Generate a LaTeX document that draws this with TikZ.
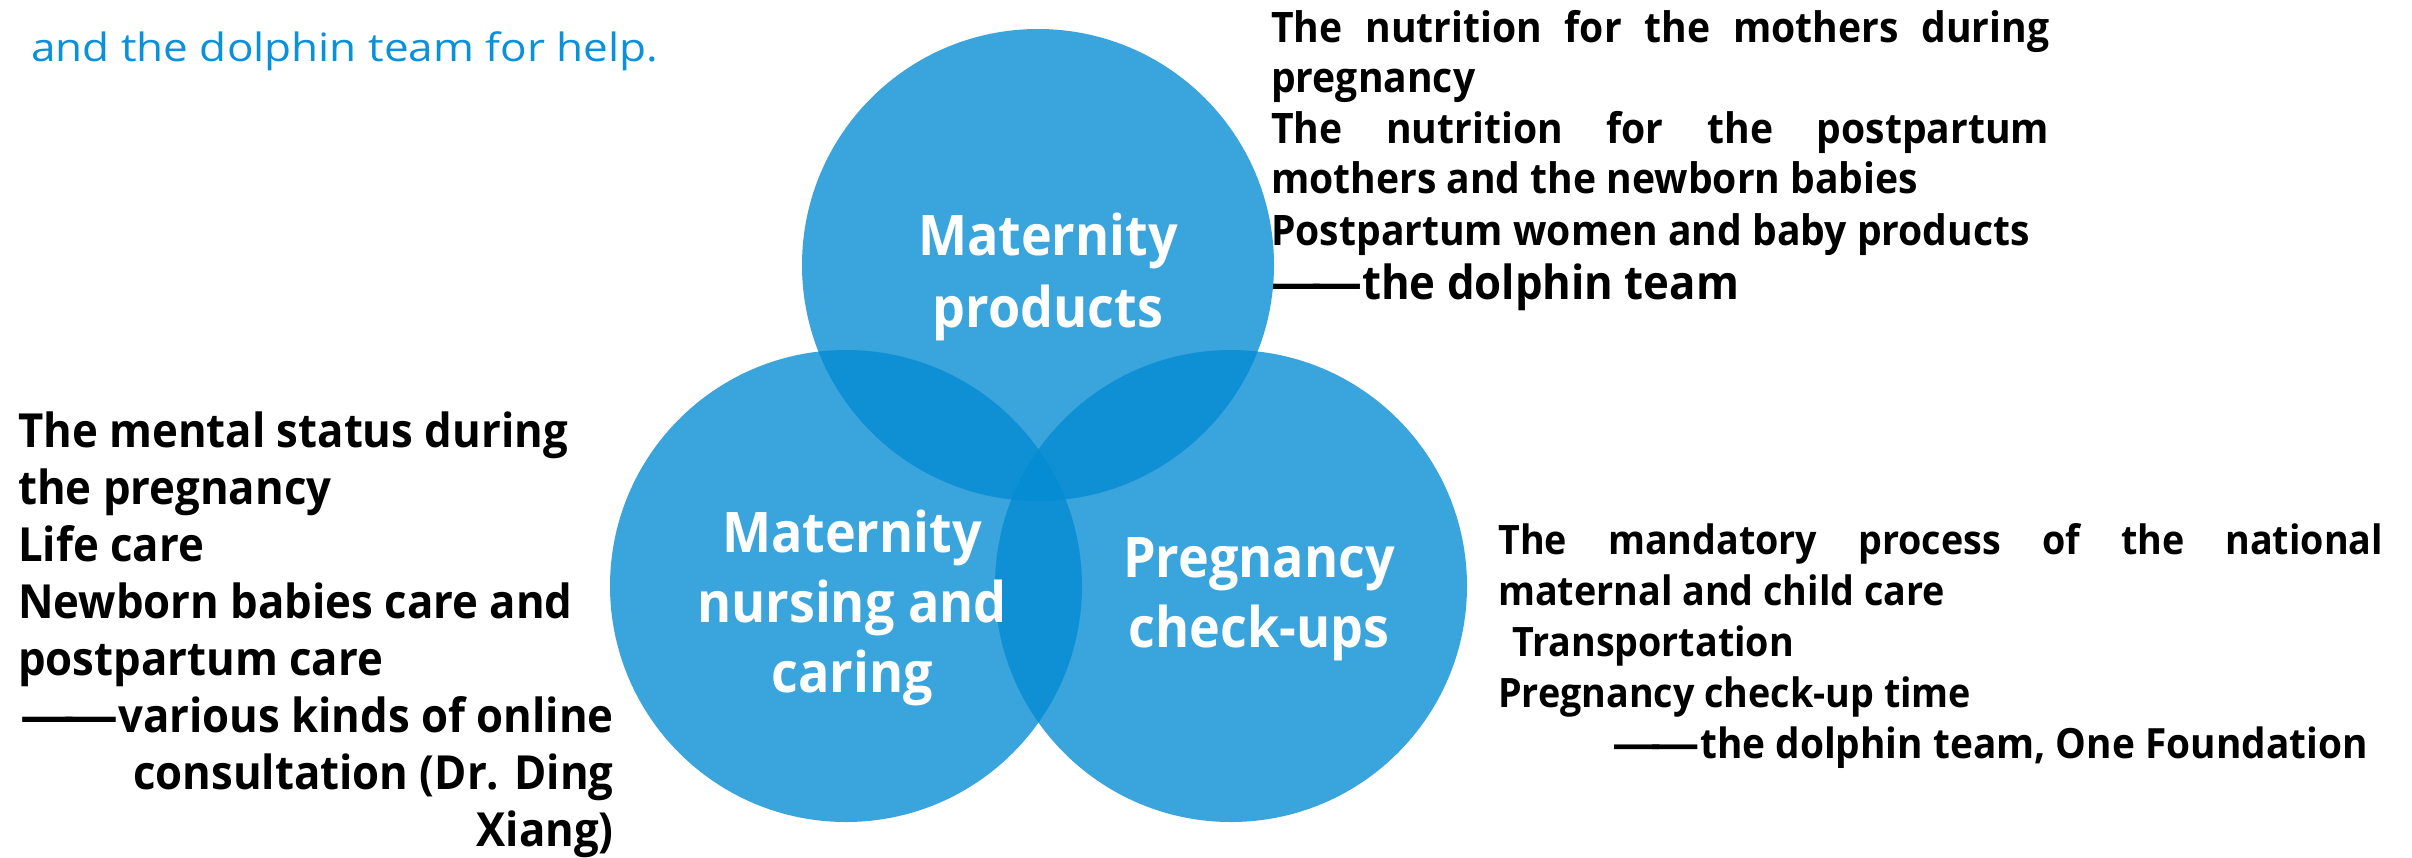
\documentclass[tikz,border=0pt]{standalone}
\usepackage{fontspec}
\usepackage{graphicx}
\setmainfont{Open Sans}
\newfontfamily\bodyfont{Open Sans}[FakeStretch=0.93]
\newfontfamily\thinfont{Open Sans}[FakeStretch=1.13]
\definecolor{vennblue}{RGB}{3,139,211}
\definecolor{topblue}{RGB}{10,145,220}
\newcommand\ddash[1]{\resizebox{#1}{\height}{—\kern-0.2em—}}
\begin{document}
\begin{tikzpicture}[x=1pt,y=-1pt,
  venn/.style={circle, minimum size=472pt, inner sep=0pt, fill=vennblue, fill opacity=0.78, draw=none},
  lbl/.style={anchor=base, text=white, inner sep=0pt, font=\bodyfont\bfseries\fontsize{56}{60}\selectfont},
  lw/.style={anchor=base west, inner sep=0pt, font=\bodyfont\bfseries\fontsize{47}{50}\selectfont},
  le/.style={anchor=base east, inner sep=0pt, font=\bodyfont\bfseries\fontsize{47}{50}\selectfont},
  tr/.style={anchor=base west, inner sep=0pt, font=\bodyfont\bfseries\fontsize{42}{46}\selectfont},
  rr/.style={anchor=base west, inner sep=0pt, font=\bodyfont\bfseries\fontsize{40.5}{44}\selectfont},
]
\useasboundingbox[fill=white] (0,0) rectangle (2412,857);

% circles
\node[venn] (ctop) at (1038,265) {};
\node[venn] (cleft) at (846,586) {};
\node[venn] (cright) at (1231,586) {};

% circle labels
\node[lbl] (t1) at (1048,255) {Maternity};
\node[lbl] (t2) at (1048,327) {products};
\node[lbl] (l1) at (852,552) {Maternity};
\node[lbl] (l2) at (852,622) {nursing and};
\node[lbl] (l3) at (852,692) {caring};
\node[lbl] (r1) at (1259,577) {Pregnancy};
\node[lbl] (r2) at (1259,647) {check-ups};

% top-left blue text
\node[anchor=base west, inner sep=0pt, text=topblue, font=\thinfont\fontsize{39}{42}\selectfont] (help) at (31,61) {and the dolphin team for help.};

% top-right block
\node[tr] (a1) at (1271,42) {\makebox[778pt][s]{The nutrition for the mothers during}};
\node[tr] (a2) at (1271,92) {pregnancy};
\node[tr] (a3) at (1271,143) {\makebox[778pt][s]{The nutrition for the postpartum}};
\node[tr] (a4) at (1271,193) {mothers and the newborn babies};
\node[tr] (a5) at (1271,245) {Postpartum women and baby products};
\node[tr, font=\bodyfont\bfseries\fontsize{47}{50}\selectfont] (a6) at (1271,299) {\ddash{91pt}the dolphin team};

% left block
\node[lw] (b1) at (18,447) {The mental status during};
\node[lw] (b2) at (18,504) {the pregnancy};
\node[lw] (b3) at (18,561) {Life care};
\node[lw] (b4) at (18,618) {Newborn babies care and};
\node[lw] (b5) at (18,675) {postpartum care};
\node[le] (b6) at (614,732) {\ddash{98pt}various kinds of online};
\node[le] (b7) at (614,789) {consultation (Dr. Ding};
\node[le] (b8) at (614,846) {Xiang)};

% right block
\node[rr] (c1) at (1498,554) {\makebox[885pt][s]{The mandatory process of the national}};
\node[rr] (c2) at (1498,605) {maternal and child care};
\node[rr] (c3) at (1512,656) {Transportation};
\node[rr] (c4) at (1498,707) {Pregnancy check-up time};
\node[rr, font=\bodyfont\bfseries\fontsize{41.7}{44}\selectfont] (c5) at (1612,758) {\ddash{88pt}the dolphin team, One Foundation};
\end{tikzpicture}
\end{document}
